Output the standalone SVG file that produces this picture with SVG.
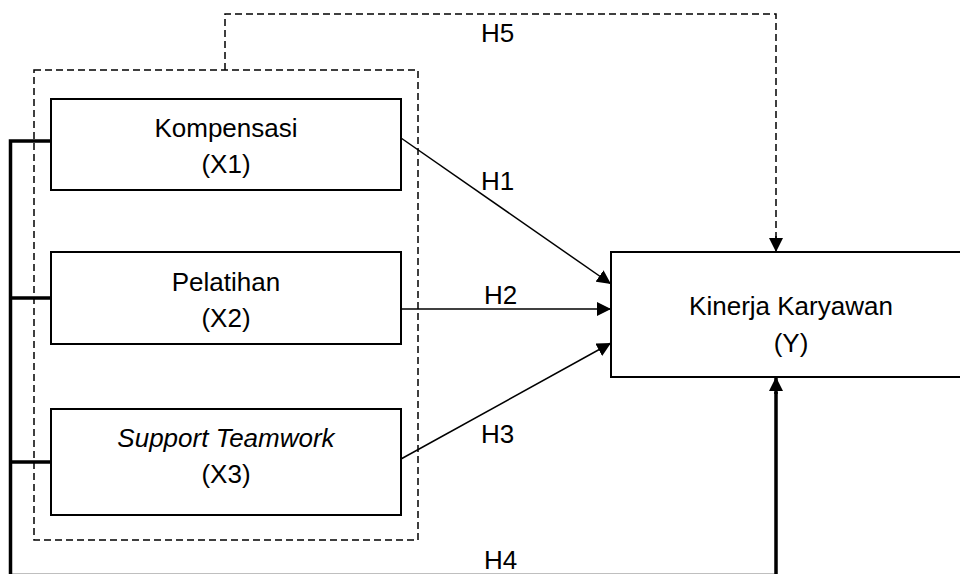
<svg xmlns="http://www.w3.org/2000/svg" width="960" height="574" viewBox="0 0 960 574">
<style>
.box{fill:#fff;stroke:#000;stroke-width:2}
.t{font-family:"Liberation Sans",Arial,sans-serif;font-size:26px;fill:#000;text-anchor:middle}
.lb{font-family:"Liberation Sans",Arial,sans-serif;font-size:26px;fill:#000}
.dash{fill:none;stroke:#000;stroke-width:1.5;stroke-dasharray:7 4}
.thin{fill:none;stroke:#000;stroke-width:1.5}
.thick{fill:none;stroke:#000;stroke-width:3.5}
</style>
<defs>
<marker id="ahb" markerWidth="14" markerHeight="14" refX="14" refY="7" orient="auto" markerUnits="userSpaceOnUse" viewBox="0 0 14 14">
<path d="M0,0 L14,7 L0,14 Z" fill="#000"/>
</marker>
</defs>
<rect width="960" height="574" fill="#fff"/>
<g id="connectors">
<rect x="34" y="70" width="384" height="470" class="dash"/>
<path d="M225,70 V14 H776 V238" class="dash"/>
<path d="M776,236 V252" class="thin" marker-end="url(#ahb)"/>
<path d="M401,138 L611,284" class="thin" marker-end="url(#ahb)"/>
<path d="M401,309 L611,309" class="thin" marker-end="url(#ahb)"/>
<path d="M401,459 L611,343" class="thin" marker-end="url(#ahb)"/>
<path d="M51,141 H10.5 V575.5 H776 V392" class="thick"/>
<path d="M776,394 V377" class="thick" marker-end="url(#ahb)"/>
<path d="M10.5,298 H51 M10.5,462 H51" class="thick"/>
<text class="lb" x="481" y="42">H5</text>
<text class="lb" x="481" y="190">H1</text>
<text class="lb" x="484" y="304">H2</text>
<text class="lb" x="481" y="443">H3</text>
<text class="lb" x="484" y="569">H4</text>
</g>
<g id="x1">
<rect x="51" y="99" width="350" height="91" class="box"/>
<text class="t" x="226" y="137">Kompensasi</text>
<text class="t" x="226" y="173">(X1)</text>
</g>
<g id="x2">
<rect x="51" y="252" width="350" height="92" class="box"/>
<text class="t" x="226" y="291">Pelatihan</text>
<text class="t" x="226" y="327">(X2)</text>
</g>
<g id="x3">
<rect x="51" y="409" width="350" height="106" class="box"/>
<text class="t" x="226" y="447" font-style="italic">Support Teamwork</text>
<text class="t" x="226" y="483">(X3)</text>
</g>
<g id="y">
<rect x="611" y="252" width="370" height="125" class="box"/>
<text class="t" x="791" y="315">Kinerja Karyawan</text>
<text class="t" x="791" y="352">(Y)</text>
</g>
</svg>
